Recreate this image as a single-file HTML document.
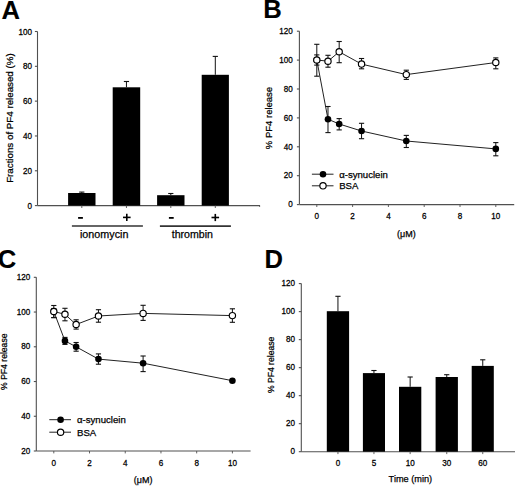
<!DOCTYPE html>
<html><head><meta charset="utf-8"><style>
html,body{margin:0;padding:0;background:#fff;}
svg{display:block;}
text{font-family:"Liberation Sans", sans-serif;fill:#000;stroke:#000;stroke-width:0.25px;}
</style></head><body>
<svg width="520" height="486" viewBox="0 0 520 486">
<rect width="520" height="486" fill="#fff"/>
<text x="1.60" y="18.60" font-size="25.6" text-anchor="start" font-weight="bold"  style="stroke-width:0.12px">A</text>
<line x1="37.50" y1="31.50" x2="37.50" y2="205.60" stroke="#505050" stroke-width="1.1"/>
<line x1="37.50" y1="205.60" x2="260.00" y2="205.60" stroke="#505050" stroke-width="1.1"/>
<line x1="259.60" y1="205.60" x2="259.60" y2="206.80" stroke="#505050" stroke-width="1.1"/>
<line x1="34.90" y1="205.60" x2="37.50" y2="205.60" stroke="#505050" stroke-width="1.1"/>
<text transform="translate(32.00,208.60) scale(1,1.1)" font-size="8.1" text-anchor="end" class="t">0</text>
<line x1="34.90" y1="170.78" x2="37.50" y2="170.78" stroke="#505050" stroke-width="1.1"/>
<text transform="translate(32.00,173.78) scale(1,1.1)" font-size="8.1" text-anchor="end" class="t">20</text>
<line x1="34.90" y1="135.96" x2="37.50" y2="135.96" stroke="#505050" stroke-width="1.1"/>
<text transform="translate(32.00,138.96) scale(1,1.1)" font-size="8.1" text-anchor="end" class="t">40</text>
<line x1="34.90" y1="101.14" x2="37.50" y2="101.14" stroke="#505050" stroke-width="1.1"/>
<text transform="translate(32.00,104.14) scale(1,1.1)" font-size="8.1" text-anchor="end" class="t">60</text>
<line x1="34.90" y1="66.32" x2="37.50" y2="66.32" stroke="#505050" stroke-width="1.1"/>
<text transform="translate(32.00,69.32) scale(1,1.1)" font-size="8.1" text-anchor="end" class="t">80</text>
<line x1="34.90" y1="31.50" x2="37.50" y2="31.50" stroke="#505050" stroke-width="1.1"/>
<text transform="translate(32.00,34.50) scale(1,1.1)" font-size="8.1" text-anchor="end" class="t">100</text>
<text transform="translate(13.1,118.1) rotate(-90)" font-size="9.75" text-anchor="middle">Fractions of PF4 released (%)</text>
<rect x="68.10" y="193.00" width="27.40" height="12.60" fill="#000"/>
<line x1="81.80" y1="192.10" x2="81.80" y2="193.00" stroke="#111" stroke-width="1.0"/>
<line x1="79.20" y1="192.10" x2="84.40" y2="192.10" stroke="#111" stroke-width="1.1"/>
<line x1="81.80" y1="205.60" x2="81.80" y2="208.00" stroke="#505050" stroke-width="0.9"/>
<rect x="112.70" y="87.30" width="27.50" height="118.30" fill="#000"/>
<line x1="126.45" y1="81.50" x2="126.45" y2="87.30" stroke="#111" stroke-width="1.0"/>
<line x1="123.85" y1="81.50" x2="129.05" y2="81.50" stroke="#111" stroke-width="1.1"/>
<line x1="126.45" y1="205.60" x2="126.45" y2="208.00" stroke="#505050" stroke-width="0.9"/>
<rect x="157.10" y="195.20" width="27.40" height="10.40" fill="#000"/>
<line x1="170.80" y1="193.50" x2="170.80" y2="195.20" stroke="#111" stroke-width="1.0"/>
<line x1="168.20" y1="193.50" x2="173.40" y2="193.50" stroke="#111" stroke-width="1.1"/>
<line x1="170.80" y1="205.60" x2="170.80" y2="208.00" stroke="#505050" stroke-width="0.9"/>
<rect x="201.70" y="74.80" width="27.20" height="130.80" fill="#000"/>
<line x1="215.30" y1="56.40" x2="215.30" y2="74.80" stroke="#111" stroke-width="1.0"/>
<line x1="212.70" y1="56.40" x2="217.90" y2="56.40" stroke="#111" stroke-width="1.1"/>
<line x1="215.30" y1="205.60" x2="215.30" y2="208.00" stroke="#505050" stroke-width="0.9"/>
<line x1="78.10" y1="217.90" x2="82.90" y2="217.90" stroke="#000" stroke-width="1.8"/>
<line x1="123.00" y1="217.40" x2="130.60" y2="217.40" stroke="#000" stroke-width="1.6"/>
<line x1="126.80" y1="213.80" x2="126.80" y2="221.00" stroke="#000" stroke-width="1.6"/>
<line x1="168.90" y1="217.90" x2="173.70" y2="217.90" stroke="#000" stroke-width="1.8"/>
<line x1="211.50" y1="217.50" x2="219.10" y2="217.50" stroke="#000" stroke-width="1.6"/>
<line x1="215.30" y1="213.90" x2="215.30" y2="221.10" stroke="#000" stroke-width="1.6"/>
<line x1="71.90" y1="226.00" x2="142.90" y2="226.00" stroke="#333" stroke-width="1.6"/>
<line x1="159.90" y1="226.10" x2="230.90" y2="226.10" stroke="#333" stroke-width="1.6"/>
<text x="104.20" y="238.10" font-size="10.75" text-anchor="middle" font-weight="normal" >ionomycin</text>
<text x="192.35" y="238.30" font-size="10.6" text-anchor="middle" font-weight="normal" >thrombin</text>
<text x="263.20" y="17.90" font-size="25.6" text-anchor="start" font-weight="bold"  style="stroke-width:0.12px">B</text>
<line x1="299.40" y1="31.20" x2="299.40" y2="204.60" stroke="#505050" stroke-width="1.1"/>
<line x1="299.40" y1="204.60" x2="514.20" y2="204.60" stroke="#505050" stroke-width="1.1"/>
<line x1="296.90" y1="204.60" x2="299.40" y2="204.60" stroke="#505050" stroke-width="1.1"/>
<text transform="translate(292.70,207.30) scale(1,1.1)" font-size="8.1" text-anchor="end" class="t">0</text>
<line x1="296.90" y1="175.70" x2="299.40" y2="175.70" stroke="#505050" stroke-width="1.1"/>
<text transform="translate(292.70,178.40) scale(1,1.1)" font-size="8.1" text-anchor="end" class="t">20</text>
<line x1="296.90" y1="146.80" x2="299.40" y2="146.80" stroke="#505050" stroke-width="1.1"/>
<text transform="translate(292.70,149.50) scale(1,1.1)" font-size="8.1" text-anchor="end" class="t">40</text>
<line x1="296.90" y1="117.90" x2="299.40" y2="117.90" stroke="#505050" stroke-width="1.1"/>
<text transform="translate(292.70,120.60) scale(1,1.1)" font-size="8.1" text-anchor="end" class="t">60</text>
<line x1="296.90" y1="89.00" x2="299.40" y2="89.00" stroke="#505050" stroke-width="1.1"/>
<text transform="translate(292.70,91.70) scale(1,1.1)" font-size="8.1" text-anchor="end" class="t">80</text>
<line x1="296.90" y1="60.10" x2="299.40" y2="60.10" stroke="#505050" stroke-width="1.1"/>
<text transform="translate(292.70,62.80) scale(1,1.1)" font-size="8.1" text-anchor="end" class="t">100</text>
<line x1="296.90" y1="31.20" x2="299.40" y2="31.20" stroke="#505050" stroke-width="1.1"/>
<text transform="translate(292.70,33.90) scale(1,1.1)" font-size="8.1" text-anchor="end" class="t">120</text>
<line x1="316.80" y1="204.60" x2="316.80" y2="207.00" stroke="#505050" stroke-width="0.9"/>
<text transform="translate(316.80,218.90) scale(1,1.1)" font-size="8.1" text-anchor="middle" class="t">0</text>
<line x1="352.60" y1="204.60" x2="352.60" y2="207.00" stroke="#505050" stroke-width="0.9"/>
<text transform="translate(352.60,218.90) scale(1,1.1)" font-size="8.1" text-anchor="middle" class="t">2</text>
<line x1="388.40" y1="204.60" x2="388.40" y2="207.00" stroke="#505050" stroke-width="0.9"/>
<text transform="translate(388.40,218.90) scale(1,1.1)" font-size="8.1" text-anchor="middle" class="t">4</text>
<line x1="424.20" y1="204.60" x2="424.20" y2="207.00" stroke="#505050" stroke-width="0.9"/>
<text transform="translate(424.20,218.90) scale(1,1.1)" font-size="8.1" text-anchor="middle" class="t">6</text>
<line x1="460.00" y1="204.60" x2="460.00" y2="207.00" stroke="#505050" stroke-width="0.9"/>
<text transform="translate(460.00,218.90) scale(1,1.1)" font-size="8.1" text-anchor="middle" class="t">8</text>
<line x1="495.80" y1="204.60" x2="495.80" y2="207.00" stroke="#505050" stroke-width="0.9"/>
<text transform="translate(495.80,218.90) scale(1,1.1)" font-size="8.1" text-anchor="middle" class="t">10</text>
<text x="406.30" y="236.80" font-size="9.0" text-anchor="middle" font-weight="normal" >(&#956;M)</text>
<text transform="translate(271.6,118.0) rotate(-90)" font-size="9.5" text-anchor="middle">% PF4 release</text>
<polyline points="316.80,60.00 327.99,119.20 339.18,124.00 361.55,131.00 406.30,141.00 495.80,148.90" fill="none" stroke="#222" stroke-width="1.0"/>
<polyline points="316.80,60.00 327.99,61.20 339.18,51.80 361.55,64.10 406.30,74.60 495.80,62.50" fill="none" stroke="#222" stroke-width="1.0"/>
<line x1="316.80" y1="54.90" x2="316.80" y2="65.10" stroke="#111" stroke-width="1.0"/>
<line x1="314.20" y1="54.90" x2="319.40" y2="54.90" stroke="#111" stroke-width="1.1"/>
<line x1="314.20" y1="65.10" x2="319.40" y2="65.10" stroke="#111" stroke-width="1.1"/>
<line x1="327.99" y1="106.50" x2="327.99" y2="132.60" stroke="#111" stroke-width="1.0"/>
<line x1="325.39" y1="106.50" x2="330.59" y2="106.50" stroke="#111" stroke-width="1.1"/>
<line x1="325.39" y1="132.60" x2="330.59" y2="132.60" stroke="#111" stroke-width="1.1"/>
<line x1="339.18" y1="118.60" x2="339.18" y2="129.90" stroke="#111" stroke-width="1.0"/>
<line x1="336.57" y1="118.60" x2="341.78" y2="118.60" stroke="#111" stroke-width="1.1"/>
<line x1="336.57" y1="129.90" x2="341.78" y2="129.90" stroke="#111" stroke-width="1.1"/>
<line x1="361.55" y1="123.30" x2="361.55" y2="138.70" stroke="#111" stroke-width="1.0"/>
<line x1="358.95" y1="123.30" x2="364.15" y2="123.30" stroke="#111" stroke-width="1.1"/>
<line x1="358.95" y1="138.70" x2="364.15" y2="138.70" stroke="#111" stroke-width="1.1"/>
<line x1="406.30" y1="135.40" x2="406.30" y2="147.50" stroke="#111" stroke-width="1.0"/>
<line x1="403.70" y1="135.40" x2="408.90" y2="135.40" stroke="#111" stroke-width="1.1"/>
<line x1="403.70" y1="147.50" x2="408.90" y2="147.50" stroke="#111" stroke-width="1.1"/>
<line x1="495.80" y1="142.60" x2="495.80" y2="155.80" stroke="#111" stroke-width="1.0"/>
<line x1="493.20" y1="142.60" x2="498.40" y2="142.60" stroke="#111" stroke-width="1.1"/>
<line x1="493.20" y1="155.80" x2="498.40" y2="155.80" stroke="#111" stroke-width="1.1"/>
<circle cx="316.80" cy="60.00" r="3.30" fill="#000"/>
<circle cx="327.99" cy="119.20" r="3.30" fill="#000"/>
<circle cx="339.18" cy="124.00" r="3.30" fill="#000"/>
<circle cx="361.55" cy="131.00" r="3.30" fill="#000"/>
<circle cx="406.30" cy="141.00" r="3.30" fill="#000"/>
<circle cx="495.80" cy="148.90" r="3.30" fill="#000"/>
<line x1="316.80" y1="44.30" x2="316.80" y2="76.20" stroke="#111" stroke-width="1.0"/>
<line x1="314.20" y1="44.30" x2="319.40" y2="44.30" stroke="#111" stroke-width="1.1"/>
<line x1="314.20" y1="76.20" x2="319.40" y2="76.20" stroke="#111" stroke-width="1.1"/>
<line x1="327.99" y1="55.30" x2="327.99" y2="67.20" stroke="#111" stroke-width="1.0"/>
<line x1="325.39" y1="55.30" x2="330.59" y2="55.30" stroke="#111" stroke-width="1.1"/>
<line x1="325.39" y1="67.20" x2="330.59" y2="67.20" stroke="#111" stroke-width="1.1"/>
<line x1="339.18" y1="41.50" x2="339.18" y2="62.70" stroke="#111" stroke-width="1.0"/>
<line x1="336.57" y1="41.50" x2="341.78" y2="41.50" stroke="#111" stroke-width="1.1"/>
<line x1="336.57" y1="62.70" x2="341.78" y2="62.70" stroke="#111" stroke-width="1.1"/>
<line x1="361.55" y1="58.50" x2="361.55" y2="68.80" stroke="#111" stroke-width="1.0"/>
<line x1="358.95" y1="58.50" x2="364.15" y2="58.50" stroke="#111" stroke-width="1.1"/>
<line x1="358.95" y1="68.80" x2="364.15" y2="68.80" stroke="#111" stroke-width="1.1"/>
<line x1="406.30" y1="70.20" x2="406.30" y2="79.40" stroke="#111" stroke-width="1.0"/>
<line x1="403.70" y1="70.20" x2="408.90" y2="70.20" stroke="#111" stroke-width="1.1"/>
<line x1="403.70" y1="79.40" x2="408.90" y2="79.40" stroke="#111" stroke-width="1.1"/>
<line x1="495.80" y1="57.90" x2="495.80" y2="68.80" stroke="#111" stroke-width="1.0"/>
<line x1="493.20" y1="57.90" x2="498.40" y2="57.90" stroke="#111" stroke-width="1.1"/>
<line x1="493.20" y1="68.80" x2="498.40" y2="68.80" stroke="#111" stroke-width="1.1"/>
<circle cx="316.80" cy="60.00" r="3.15" fill="#fff" stroke="#000" stroke-width="1.15"/>
<circle cx="327.99" cy="61.20" r="3.15" fill="#fff" stroke="#000" stroke-width="1.15"/>
<circle cx="339.18" cy="51.80" r="3.15" fill="#fff" stroke="#000" stroke-width="1.15"/>
<circle cx="361.55" cy="64.10" r="3.15" fill="#fff" stroke="#000" stroke-width="1.15"/>
<circle cx="406.30" cy="74.60" r="3.15" fill="#fff" stroke="#000" stroke-width="1.15"/>
<circle cx="495.80" cy="62.50" r="3.15" fill="#fff" stroke="#000" stroke-width="1.15"/>
<line x1="311.90" y1="174.20" x2="333.50" y2="174.20" stroke="#222" stroke-width="1.0"/>
<circle cx="323.00" cy="174.20" r="3.30" fill="#000"/>
<line x1="311.90" y1="185.80" x2="333.50" y2="185.80" stroke="#222" stroke-width="1.0"/>
<circle cx="323.00" cy="185.80" r="3.15" fill="#fff" stroke="#000" stroke-width="1.15"/>
<text x="339.20" y="177.50" font-size="9.6" text-anchor="start" font-weight="normal" >&#945;-synuclein</text>
<text x="339.20" y="189.10" font-size="9.6" text-anchor="start" font-weight="normal" >BSA</text>
<text x="-2.30" y="267.70" font-size="25.6" text-anchor="start" font-weight="bold"  style="stroke-width:0.12px">C</text>
<line x1="36.30" y1="277.30" x2="36.30" y2="451.00" stroke="#505050" stroke-width="1.1"/>
<line x1="36.30" y1="451.00" x2="250.60" y2="451.00" stroke="#505050" stroke-width="1.1"/>
<line x1="33.80" y1="451.00" x2="36.30" y2="451.00" stroke="#505050" stroke-width="1.1"/>
<text transform="translate(30.20,453.70) scale(1,1.1)" font-size="8.1" text-anchor="end" class="t">20</text>
<line x1="33.80" y1="416.26" x2="36.30" y2="416.26" stroke="#505050" stroke-width="1.1"/>
<text transform="translate(30.20,418.96) scale(1,1.1)" font-size="8.1" text-anchor="end" class="t">40</text>
<line x1="33.80" y1="381.52" x2="36.30" y2="381.52" stroke="#505050" stroke-width="1.1"/>
<text transform="translate(30.20,384.22) scale(1,1.1)" font-size="8.1" text-anchor="end" class="t">60</text>
<line x1="33.80" y1="346.78" x2="36.30" y2="346.78" stroke="#505050" stroke-width="1.1"/>
<text transform="translate(30.20,349.48) scale(1,1.1)" font-size="8.1" text-anchor="end" class="t">80</text>
<line x1="33.80" y1="312.04" x2="36.30" y2="312.04" stroke="#505050" stroke-width="1.1"/>
<text transform="translate(30.20,314.74) scale(1,1.1)" font-size="8.1" text-anchor="end" class="t">100</text>
<line x1="33.80" y1="277.30" x2="36.30" y2="277.30" stroke="#505050" stroke-width="1.1"/>
<text transform="translate(30.20,280.00) scale(1,1.1)" font-size="8.1" text-anchor="end" class="t">120</text>
<line x1="53.80" y1="451.00" x2="53.80" y2="453.40" stroke="#505050" stroke-width="0.9"/>
<text transform="translate(53.80,465.90) scale(1,1.1)" font-size="8.1" text-anchor="middle" class="t">0</text>
<line x1="89.52" y1="451.00" x2="89.52" y2="453.40" stroke="#505050" stroke-width="0.9"/>
<text transform="translate(89.52,465.90) scale(1,1.1)" font-size="8.1" text-anchor="middle" class="t">2</text>
<line x1="125.24" y1="451.00" x2="125.24" y2="453.40" stroke="#505050" stroke-width="0.9"/>
<text transform="translate(125.24,465.90) scale(1,1.1)" font-size="8.1" text-anchor="middle" class="t">4</text>
<line x1="160.96" y1="451.00" x2="160.96" y2="453.40" stroke="#505050" stroke-width="0.9"/>
<text transform="translate(160.96,465.90) scale(1,1.1)" font-size="8.1" text-anchor="middle" class="t">6</text>
<line x1="196.68" y1="451.00" x2="196.68" y2="453.40" stroke="#505050" stroke-width="0.9"/>
<text transform="translate(196.68,465.90) scale(1,1.1)" font-size="8.1" text-anchor="middle" class="t">8</text>
<line x1="232.40" y1="451.00" x2="232.40" y2="453.40" stroke="#505050" stroke-width="0.9"/>
<text transform="translate(232.40,465.90) scale(1,1.1)" font-size="8.1" text-anchor="middle" class="t">10</text>
<text x="143.10" y="482.50" font-size="9.0" text-anchor="middle" font-weight="normal" >(&#956;M)</text>
<text transform="translate(7.4,361.7) rotate(-90)" font-size="8.6" text-anchor="middle">% PF4 release</text>
<polyline points="53.80,311.50 64.96,340.90 76.12,346.80 98.45,359.10 143.10,363.20 232.40,380.70" fill="none" stroke="#222" stroke-width="1.0"/>
<polyline points="53.80,311.50 64.96,314.30 76.12,324.50 98.45,316.00 143.10,313.40 232.40,315.60" fill="none" stroke="#222" stroke-width="1.0"/>
<line x1="53.80" y1="308.50" x2="53.80" y2="317.60" stroke="#111" stroke-width="1.0"/>
<line x1="51.20" y1="308.50" x2="56.40" y2="308.50" stroke="#111" stroke-width="1.1"/>
<line x1="51.20" y1="317.60" x2="56.40" y2="317.60" stroke="#111" stroke-width="1.1"/>
<line x1="64.96" y1="337.40" x2="64.96" y2="344.40" stroke="#111" stroke-width="1.0"/>
<line x1="62.36" y1="337.40" x2="67.56" y2="337.40" stroke="#111" stroke-width="1.1"/>
<line x1="62.36" y1="344.40" x2="67.56" y2="344.40" stroke="#111" stroke-width="1.1"/>
<line x1="76.12" y1="342.50" x2="76.12" y2="351.20" stroke="#111" stroke-width="1.0"/>
<line x1="73.53" y1="342.50" x2="78.72" y2="342.50" stroke="#111" stroke-width="1.1"/>
<line x1="73.53" y1="351.20" x2="78.72" y2="351.20" stroke="#111" stroke-width="1.1"/>
<line x1="98.45" y1="353.90" x2="98.45" y2="364.20" stroke="#111" stroke-width="1.0"/>
<line x1="95.85" y1="353.90" x2="101.05" y2="353.90" stroke="#111" stroke-width="1.1"/>
<line x1="95.85" y1="364.20" x2="101.05" y2="364.20" stroke="#111" stroke-width="1.1"/>
<line x1="143.10" y1="356.00" x2="143.10" y2="371.60" stroke="#111" stroke-width="1.0"/>
<line x1="140.50" y1="356.00" x2="145.70" y2="356.00" stroke="#111" stroke-width="1.1"/>
<line x1="140.50" y1="371.60" x2="145.70" y2="371.60" stroke="#111" stroke-width="1.1"/>
<circle cx="53.80" cy="311.50" r="3.30" fill="#000"/>
<circle cx="64.96" cy="340.90" r="3.30" fill="#000"/>
<circle cx="76.12" cy="346.80" r="3.30" fill="#000"/>
<circle cx="98.45" cy="359.10" r="3.30" fill="#000"/>
<circle cx="143.10" cy="363.20" r="3.30" fill="#000"/>
<circle cx="232.40" cy="380.70" r="3.30" fill="#000"/>
<line x1="53.80" y1="305.50" x2="53.80" y2="317.60" stroke="#111" stroke-width="1.0"/>
<line x1="51.20" y1="305.50" x2="56.40" y2="305.50" stroke="#111" stroke-width="1.1"/>
<line x1="51.20" y1="317.60" x2="56.40" y2="317.60" stroke="#111" stroke-width="1.1"/>
<line x1="64.96" y1="308.30" x2="64.96" y2="320.80" stroke="#111" stroke-width="1.0"/>
<line x1="62.36" y1="308.30" x2="67.56" y2="308.30" stroke="#111" stroke-width="1.1"/>
<line x1="62.36" y1="320.80" x2="67.56" y2="320.80" stroke="#111" stroke-width="1.1"/>
<line x1="76.12" y1="319.80" x2="76.12" y2="329.10" stroke="#111" stroke-width="1.0"/>
<line x1="73.53" y1="319.80" x2="78.72" y2="319.80" stroke="#111" stroke-width="1.1"/>
<line x1="73.53" y1="329.10" x2="78.72" y2="329.10" stroke="#111" stroke-width="1.1"/>
<line x1="98.45" y1="309.70" x2="98.45" y2="322.20" stroke="#111" stroke-width="1.0"/>
<line x1="95.85" y1="309.70" x2="101.05" y2="309.70" stroke="#111" stroke-width="1.1"/>
<line x1="95.85" y1="322.20" x2="101.05" y2="322.20" stroke="#111" stroke-width="1.1"/>
<line x1="143.10" y1="305.30" x2="143.10" y2="320.40" stroke="#111" stroke-width="1.0"/>
<line x1="140.50" y1="305.30" x2="145.70" y2="305.30" stroke="#111" stroke-width="1.1"/>
<line x1="140.50" y1="320.40" x2="145.70" y2="320.40" stroke="#111" stroke-width="1.1"/>
<line x1="232.40" y1="308.80" x2="232.40" y2="322.30" stroke="#111" stroke-width="1.0"/>
<line x1="229.80" y1="308.80" x2="235.00" y2="308.80" stroke="#111" stroke-width="1.1"/>
<line x1="229.80" y1="322.30" x2="235.00" y2="322.30" stroke="#111" stroke-width="1.1"/>
<circle cx="53.80" cy="311.50" r="3.15" fill="#fff" stroke="#000" stroke-width="1.15"/>
<circle cx="64.96" cy="314.30" r="3.15" fill="#fff" stroke="#000" stroke-width="1.15"/>
<circle cx="76.12" cy="324.50" r="3.15" fill="#fff" stroke="#000" stroke-width="1.15"/>
<circle cx="98.45" cy="316.00" r="3.15" fill="#fff" stroke="#000" stroke-width="1.15"/>
<circle cx="143.10" cy="313.40" r="3.15" fill="#fff" stroke="#000" stroke-width="1.15"/>
<circle cx="232.40" cy="315.60" r="3.15" fill="#fff" stroke="#000" stroke-width="1.15"/>
<line x1="49.30" y1="419.70" x2="71.00" y2="419.70" stroke="#222" stroke-width="1.0"/>
<circle cx="60.60" cy="419.70" r="3.30" fill="#000"/>
<line x1="49.30" y1="432.20" x2="71.00" y2="432.20" stroke="#222" stroke-width="1.0"/>
<circle cx="60.60" cy="432.20" r="3.15" fill="#fff" stroke="#000" stroke-width="1.15"/>
<text x="77.00" y="423.00" font-size="9.6" text-anchor="start" font-weight="normal" >&#945;-synuclein</text>
<text x="77.00" y="435.50" font-size="9.6" text-anchor="start" font-weight="normal" >BSA</text>
<text x="264.50" y="268.00" font-size="25.6" text-anchor="start" font-weight="bold"  style="stroke-width:0.12px">D</text>
<line x1="301.30" y1="283.60" x2="301.30" y2="451.70" stroke="#505050" stroke-width="1.1"/>
<line x1="301.30" y1="451.70" x2="515.00" y2="451.70" stroke="#505050" stroke-width="1.1"/>
<line x1="298.80" y1="451.70" x2="301.30" y2="451.70" stroke="#505050" stroke-width="1.1"/>
<text transform="translate(294.90,454.40) scale(1,1.1)" font-size="8.1" text-anchor="end" class="t">0</text>
<line x1="298.80" y1="423.68" x2="301.30" y2="423.68" stroke="#505050" stroke-width="1.1"/>
<text transform="translate(294.90,426.38) scale(1,1.1)" font-size="8.1" text-anchor="end" class="t">20</text>
<line x1="298.80" y1="395.67" x2="301.30" y2="395.67" stroke="#505050" stroke-width="1.1"/>
<text transform="translate(294.90,398.37) scale(1,1.1)" font-size="8.1" text-anchor="end" class="t">40</text>
<line x1="298.80" y1="367.65" x2="301.30" y2="367.65" stroke="#505050" stroke-width="1.1"/>
<text transform="translate(294.90,370.35) scale(1,1.1)" font-size="8.1" text-anchor="end" class="t">60</text>
<line x1="298.80" y1="339.63" x2="301.30" y2="339.63" stroke="#505050" stroke-width="1.1"/>
<text transform="translate(294.90,342.33) scale(1,1.1)" font-size="8.1" text-anchor="end" class="t">80</text>
<line x1="298.80" y1="311.62" x2="301.30" y2="311.62" stroke="#505050" stroke-width="1.1"/>
<text transform="translate(294.90,314.32) scale(1,1.1)" font-size="8.1" text-anchor="end" class="t">100</text>
<line x1="298.80" y1="283.60" x2="301.30" y2="283.60" stroke="#505050" stroke-width="1.1"/>
<text transform="translate(294.90,286.30) scale(1,1.1)" font-size="8.1" text-anchor="end" class="t">120</text>
<text transform="translate(273.9,364.9) rotate(-90)" font-size="8.6" text-anchor="middle">% PF4 release</text>
<rect x="326.80" y="311.20" width="22.30" height="140.50" fill="#000"/>
<line x1="337.95" y1="296.30" x2="337.95" y2="311.20" stroke="#111" stroke-width="1.0"/>
<line x1="335.35" y1="296.30" x2="340.55" y2="296.30" stroke="#111" stroke-width="1.1"/>
<line x1="337.95" y1="451.70" x2="337.95" y2="454.10" stroke="#505050" stroke-width="0.9"/>
<text transform="translate(337.95,466.20) scale(1,1.1)" font-size="8.1" text-anchor="middle" class="t">0</text>
<rect x="362.90" y="373.10" width="22.10" height="78.60" fill="#000"/>
<line x1="373.95" y1="370.50" x2="373.95" y2="373.10" stroke="#111" stroke-width="1.0"/>
<line x1="371.35" y1="370.50" x2="376.55" y2="370.50" stroke="#111" stroke-width="1.1"/>
<line x1="373.95" y1="451.70" x2="373.95" y2="454.10" stroke="#505050" stroke-width="0.9"/>
<text transform="translate(373.95,466.20) scale(1,1.1)" font-size="8.1" text-anchor="middle" class="t">5</text>
<rect x="399.00" y="386.80" width="22.30" height="64.90" fill="#000"/>
<line x1="410.15" y1="377.00" x2="410.15" y2="386.80" stroke="#111" stroke-width="1.0"/>
<line x1="407.55" y1="377.00" x2="412.75" y2="377.00" stroke="#111" stroke-width="1.1"/>
<line x1="410.15" y1="451.70" x2="410.15" y2="454.10" stroke="#505050" stroke-width="0.9"/>
<text transform="translate(410.15,466.20) scale(1,1.1)" font-size="8.1" text-anchor="middle" class="t">10</text>
<rect x="435.60" y="377.00" width="22.30" height="74.70" fill="#000"/>
<line x1="446.75" y1="374.70" x2="446.75" y2="377.00" stroke="#111" stroke-width="1.0"/>
<line x1="444.15" y1="374.70" x2="449.35" y2="374.70" stroke="#111" stroke-width="1.1"/>
<line x1="446.75" y1="451.70" x2="446.75" y2="454.10" stroke="#505050" stroke-width="0.9"/>
<text transform="translate(446.75,466.20) scale(1,1.1)" font-size="8.1" text-anchor="middle" class="t">30</text>
<rect x="471.70" y="365.90" width="22.10" height="85.80" fill="#000"/>
<line x1="482.75" y1="359.80" x2="482.75" y2="365.90" stroke="#111" stroke-width="1.0"/>
<line x1="480.15" y1="359.80" x2="485.35" y2="359.80" stroke="#111" stroke-width="1.1"/>
<line x1="482.75" y1="451.70" x2="482.75" y2="454.10" stroke="#505050" stroke-width="0.9"/>
<text transform="translate(482.75,466.20) scale(1,1.1)" font-size="8.1" text-anchor="middle" class="t">60</text>
<text x="410.40" y="481.80" font-size="9.2" text-anchor="middle" font-weight="normal" >Time (min)</text>
</svg>
</body></html>
